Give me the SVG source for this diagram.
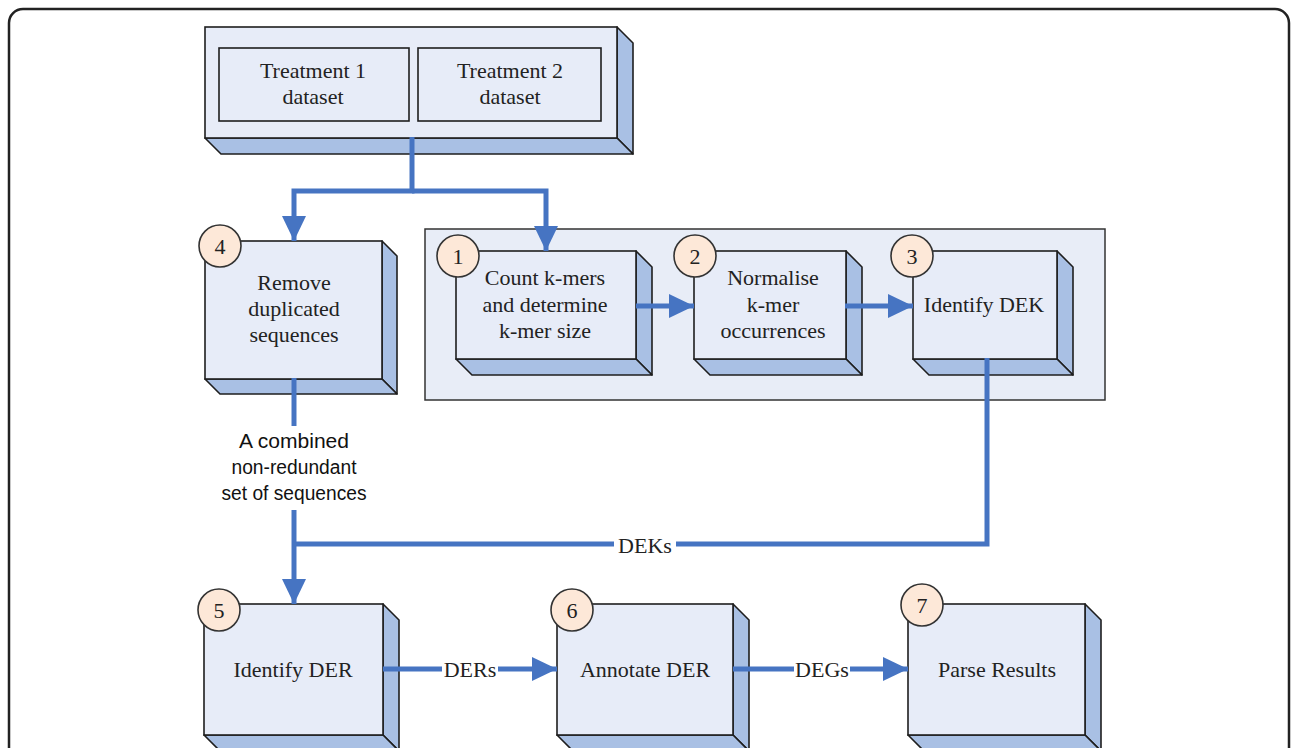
<svg xmlns="http://www.w3.org/2000/svg" width="1292" height="748" viewBox="0 0 1292 748">
<defs>
<style>
.frame{fill:#ffffff;stroke:#222;stroke-width:2.5}
.front{fill:#e7ecf8;stroke:#1e1e1e;stroke-width:1.6}
.side{fill:#a9c0e4;stroke:#1e1e1e;stroke-width:1.6;stroke-linejoin:round}
.inner{fill:#e7ecf8;stroke:#1e1e1e;stroke-width:1.6}
.container{fill:#e8edf7;stroke:#333;stroke-width:1.5}
.badge{fill:#fde8d8;stroke:#333;stroke-width:1.6}
.t{font-family:"Liberation Serif","Times New Roman",serif;font-size:22px;fill:#222;text-anchor:middle}
.s{font-family:"Liberation Sans Narrow","Liberation Sans",Arial,sans-serif;font-size:20px;fill:#111;text-anchor:middle}
.conn{fill:none;stroke:#4674c2;stroke-width:5}
.lbl{fill:#ffffff}
</style>
<marker id="ah" markerUnits="userSpaceOnUse" markerWidth="27" markerHeight="24" refX="25" refY="12" orient="auto">
<path d="M0,0 L25,12 L0,24 Z" fill="#4674c2"/>
</marker>
</defs>

<rect class="frame" x="9" y="9" width="1280" height="800" rx="14"/>

<rect class="container" x="425" y="229" width="680" height="171"/>

<g id="datasets">
<polygon class="side" points="617,27 633,43 633,154 617,138"/>
<polygon class="side" points="205,138 617,138 633,154 221,154"/>
<rect class="front" x="205" y="27" width="412" height="111"/>
<rect class="inner" x="219" y="48" width="190" height="73"/>
<rect class="inner" x="418" y="48" width="183" height="73"/>
<text class="t" x="313" y="78">Treatment 1</text>
<text class="t" x="313" y="104">dataset</text>
<text class="t" x="510" y="78">Treatment 2</text>
<text class="t" x="510" y="104">dataset</text>
</g>

<g id="node4">
<polygon class="side" points="382,241 397,256 397,394 382,379"/>
<polygon class="side" points="205,379 382,379 397,394 220,394"/>
<rect class="front" x="205" y="241" width="177" height="138"/>
<circle class="badge" cx="220" cy="246" r="21"/>
<text class="t" x="220" y="254">4</text>
<text class="t" x="294" y="290">Remove</text>
<text class="t" x="294" y="316">duplicated</text>
<text class="t" x="294" y="342">sequences</text>
</g>

<g id="node1">
<polygon class="side" points="636,251 652,267 652,375 636,359"/>
<polygon class="side" points="456,359 636,359 652,375 472,375"/>
<rect class="front" x="456" y="251" width="180" height="108"/>
<circle class="badge" cx="458" cy="256" r="21"/>
<text class="t" x="458" y="264">1</text>
<text class="t" x="545" y="285">Count k-mers</text>
<text class="t" x="545" y="312">and determine</text>
<text class="t" x="545" y="338">k-mer size</text>
</g>

<g id="node2">
<polygon class="side" points="846,251 862,267 862,375 846,359"/>
<polygon class="side" points="694,359 846,359 862,375 710,375"/>
<rect class="front" x="694" y="251" width="152" height="108"/>
<circle class="badge" cx="695" cy="256" r="21"/>
<text class="t" x="695" y="264">2</text>
<text class="t" x="773" y="285">Normalise</text>
<text class="t" x="773" y="312">k-mer</text>
<text class="t" x="773" y="338">occurrences</text>
</g>

<g id="node3">
<polygon class="side" points="1057,251 1073,267 1073,375 1057,359"/>
<polygon class="side" points="913,359 1057,359 1073,375 929,375"/>
<rect class="front" x="913" y="251" width="144" height="108"/>
<circle class="badge" cx="912" cy="256" r="21"/>
<text class="t" x="912" y="264">3</text>
<text class="t" x="984" y="312">Identify DEK</text>
</g>

<g id="node5">
<polygon class="side" points="383,604 399,620 399,751 383,735"/>
<polygon class="side" points="204,735 383,735 399,751 220,751"/>
<rect class="front" x="204" y="604" width="179" height="131"/>
<circle class="badge" cx="219" cy="610" r="21"/>
<text class="t" x="219" y="618">5</text>
<text class="t" x="293" y="677">Identify DER</text>
</g>

<g id="node6">
<polygon class="side" points="733,604 749,620 749,751 733,735"/>
<polygon class="side" points="557,735 733,735 749,751 573,751"/>
<rect class="front" x="557" y="604" width="176" height="131"/>
<circle class="badge" cx="572" cy="610" r="21"/>
<text class="t" x="572" y="618">6</text>
<text class="t" x="645" y="677">Annotate DER</text>
</g>

<g id="node7">
<polygon class="side" points="1085,604 1101,620 1101,751 1085,735"/>
<polygon class="side" points="908,735 1085,735 1101,751 924,751"/>
<rect class="front" x="908" y="604" width="177" height="131"/>
<circle class="badge" cx="922" cy="605" r="21"/>
<text class="t" x="922" y="613">7</text>
<text class="t" x="997" y="677">Parse Results</text>
</g>

<g id="connectors">
<polyline class="conn" points="412,137 412,191 294,191 294,241" marker-end="url(#ah)"/>
<polyline class="conn" points="412,191 546,191 546,251" marker-end="url(#ah)"/>
<line class="conn" x1="636" y1="306" x2="694" y2="306" marker-end="url(#ah)"/>
<line class="conn" x1="845" y1="306" x2="913" y2="306" marker-end="url(#ah)"/>
<line class="conn" x1="294" y1="378" x2="294" y2="426"/>
<polyline class="conn" points="987,358 987,544 294,544"/>
<line class="conn" x1="294" y1="510" x2="294" y2="604" marker-end="url(#ah)"/>
<rect class="lbl" x="614" y="531" width="62" height="26"/>
<text class="t" x="645" y="553">DEKs</text>
<line class="conn" x1="383" y1="669" x2="557" y2="669" marker-end="url(#ah)"/>
<rect class="lbl" x="442" y="656" width="56" height="26"/>
<text class="t" x="470" y="677">DERs</text>
<line class="conn" x1="733" y1="669" x2="908" y2="669" marker-end="url(#ah)"/>
<rect class="lbl" x="794" y="656" width="56" height="26"/>
<text class="t" x="822" y="677">DEGs</text>
<text class="s" x="294" y="448" textLength="110" lengthAdjust="spacingAndGlyphs">A combined</text>
<text class="s" x="294" y="474" textLength="125" lengthAdjust="spacingAndGlyphs">non-redundant</text>
<text class="s" x="294" y="500" textLength="145" lengthAdjust="spacingAndGlyphs">set of sequences</text>
</g>
</svg>
